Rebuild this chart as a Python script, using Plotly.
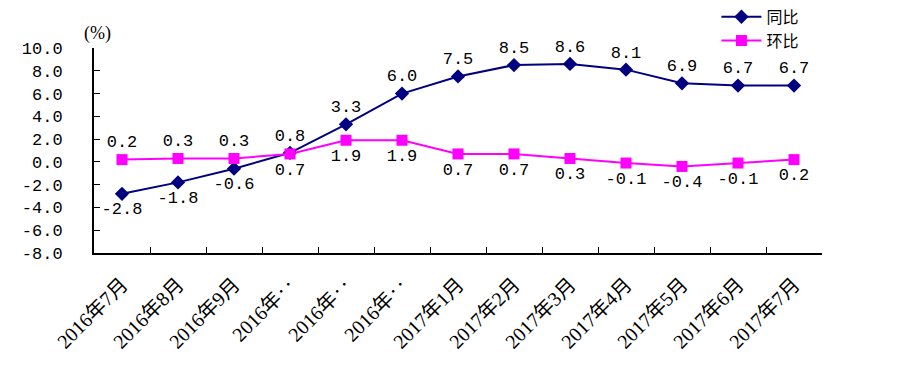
import plotly.graph_objects as go

categories = ["2016年7月", "2016年8月", "2016年9月", "2016年10月", "2016年11月", "2016年12月",
              "2017年1月", "2017年2月", "2017年3月", "2017年4月", "2017年5月", "2017年6月", "2017年7月"]
tick_labels = ["2016年7月", "2016年8月", "2016年9月", "2016年‥", "2016年‥", "2016年‥",
               "2017年1月", "2017年2月", "2017年3月", "2017年4月", "2017年5月", "2017年6月", "2017年7月"]
yoy = [-2.8, -1.8, -0.6, 0.8, 3.3, 6.0, 7.5, 8.5, 8.6, 8.1, 6.9, 6.7, 6.7]
mom = [0.2, 0.3, 0.3, 0.7, 1.9, 1.9, 0.7, 0.7, 0.3, -0.1, -0.4, -0.1, 0.2]
y_ticks = [10, 8, 6, 4, 2, 0, -2, -4, -6, -8]

x = list(range(len(categories)))
num_font = dict(family="Liberation Mono, DejaVu Sans Mono, monospace", size=17, color="black")

yoy_pos = ["bottom center" if i < 3 else "top center" for i in x]
mom_pos = ["top center" if i < 3 else "bottom center" for i in x]

fig = go.Figure()
fig.add_trace(go.Scatter(
    x=x, y=yoy, name="同比", mode="lines+markers+text",
    line=dict(color="#000080", width=2),
    marker=dict(symbol="diamond", size=11, color="#000080"),
    text=[f"{v:.1f}" for v in yoy], textposition=yoy_pos, textfont=num_font,
    cliponaxis=False,
))
fig.add_trace(go.Scatter(
    x=x, y=mom, name="环比", mode="lines+markers+text",
    line=dict(color="#FF00FF", width=2),
    marker=dict(symbol="square", size=11, color="#FF00FF"),
    text=[f"{v:.1f}" for v in mom], textposition=mom_pos, textfont=num_font,
    cliponaxis=False,
))

fig.update_layout(
    width=900, height=371,
    margin=dict(l=94, r=78, t=48, b=118, autoexpand=False),
    paper_bgcolor="white", plot_bgcolor="white",
    showlegend=True,
    legend=dict(x=0.855, y=1.235, xanchor="left", yanchor="top",
                font=dict(family="Noto Sans CJK SC", size=16, color="black"),
                bgcolor="rgba(0,0,0,0)", tracegroupgap=0, itemwidth=40),
    xaxis=dict(
        range=[-0.5, 12.5], tickmode="array", tickvals=x, ticktext=tick_labels,
        tickangle=-45, showgrid=False, zeroline=False,
        showline=True, linecolor="black", linewidth=2,
        ticks="", ticklabelstandoff=10,
        tickfont=dict(family="Liberation Serif, Noto Sans CJK SC", size=20, color="black"),
        minor=dict(tickmode="array", tickvals=[i + 0.5 for i in x[:-1]], ticks="inside",
                   ticklen=6, tickcolor="black", tickwidth=1),
    ),
    yaxis=dict(
        range=[-8, 10], tickmode="array", tickvals=y_ticks,
        ticktext=[f"{v:.1f}" for v in y_ticks],
        showgrid=False, zeroline=False,
        showline=True, linecolor="black", linewidth=2,
        ticks="inside", ticklen=6, tickcolor="black", ticklabelstandoff=26,
        tickfont=num_font,
    ),
    annotations=[dict(text="(%)", x=0.005, xref="paper", y=1.0, yref="paper",
                      xanchor="center", yanchor="bottom", showarrow=False, yshift=2,
                      font=dict(family="Liberation Serif", size=18, color="black"))],
)

fig.write_html("out.html", config={"displayModeBar": False},
               post_script="document.body.style.margin='0';")
